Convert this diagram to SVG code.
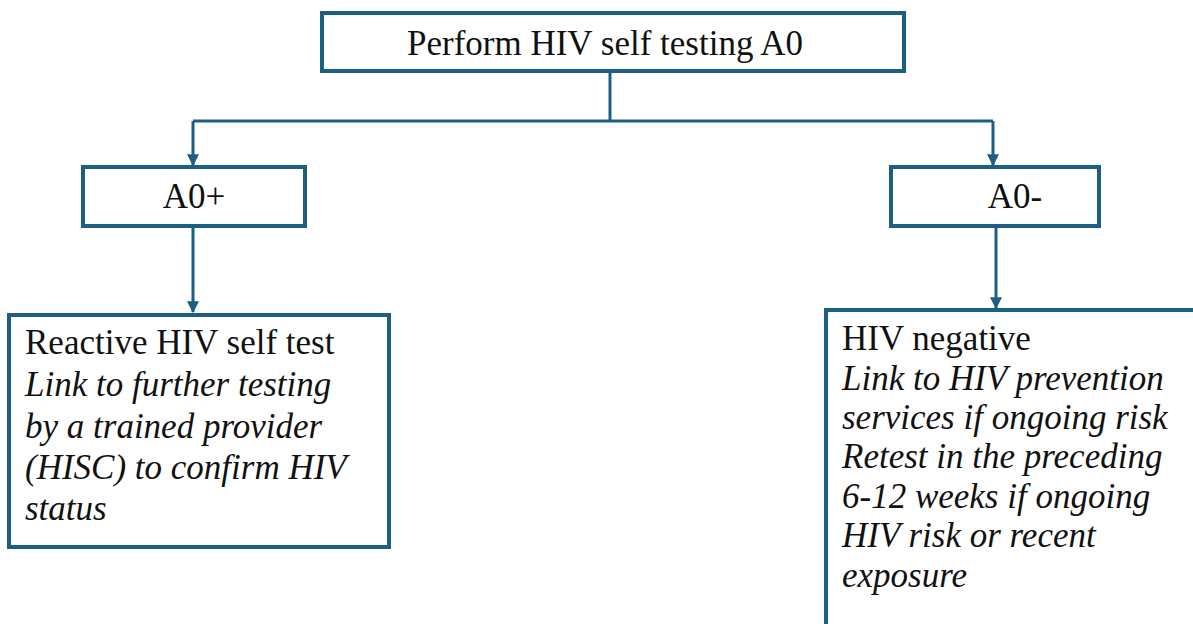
<svg xmlns="http://www.w3.org/2000/svg" width="1193" height="624" viewBox="0 0 1193 624">
<defs>
<style>
.box{fill:#fff;stroke:#1d5f82;stroke-width:4}
.ln{fill:none;stroke:#1d5f82;stroke-width:3}
text{font-family:"Liberation Serif","Times New Roman",serif;fill:#111;font-size:35px}
.it{font-style:italic}
</style>
<marker id="ah" viewBox="0 0 10 10" refX="9" refY="5" markerWidth="4" markerHeight="4" orient="auto" markerUnits="strokeWidth">
<path d="M0,0 L10,5 L0,10 z" fill="#1d5f82"/>
</marker>
</defs>
<rect width="1193" height="624" fill="#fff"/>
<g id="connectors">
<path class="ln" d="M610,71 V121"/>
<path class="ln" d="M193,121 H993"/>
<path class="ln" d="M193,121 V165" marker-end="url(#ah)"/>
<path class="ln" d="M993,121 V165" marker-end="url(#ah)"/>
<path class="ln" d="M193,226 V312" marker-end="url(#ah)"/>
<path class="ln" d="M996,226 V308" marker-end="url(#ah)"/>
</g>
<g id="top">
<rect class="box" x="322" y="13" width="582" height="58"/>
<text x="605" y="55" text-anchor="middle">Perform HIV self testing A0</text>
</g>
<g id="a0plus">
<rect class="box" x="83" y="167" width="222" height="59"/>
<text x="194" y="208" text-anchor="middle">A0+</text>
</g>
<g id="a0minus">
<rect class="box" x="891" y="167" width="208" height="59"/>
<text x="1015" y="208" text-anchor="middle">A0-</text>
</g>
<g id="reactive">
<rect class="box" x="9" y="315" width="380" height="232"/>
<text x="25" y="354">Reactive HIV self test</text>
<text class="it" x="25" y="396">Link to further testing</text>
<text class="it" x="25" y="438">by a trained provider</text>
<text class="it" x="25" y="479">(HISC) to confirm HIV</text>
<text class="it" x="25" y="520">status</text>
</g>
<g id="negative">
<rect class="box" x="826" y="310" width="380" height="330"/>
<text x="842" y="350">HIV negative</text>
<text class="it" x="842" y="390">Link to HIV prevention</text>
<text class="it" x="842" y="429">services if ongoing risk</text>
<text class="it" x="842" y="468">Retest in the preceding</text>
<text class="it" x="842" y="508">6-12 weeks if ongoing</text>
<text class="it" x="842" y="547">HIV risk or recent</text>
<text class="it" x="842" y="587">exposure</text>
</g>
</svg>
